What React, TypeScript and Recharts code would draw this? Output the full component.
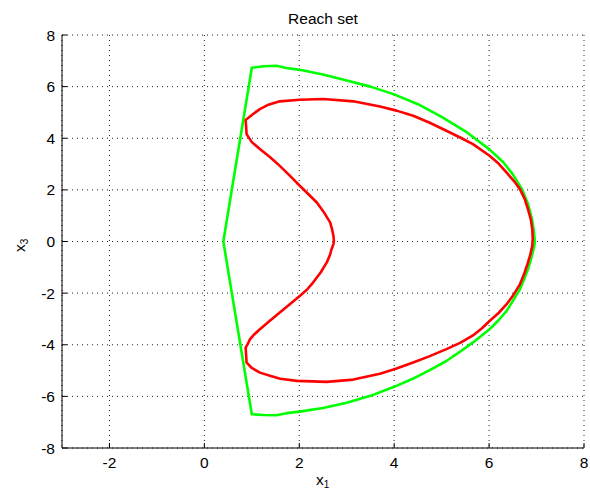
import React from "react";
import { LineChart, Line, XAxis, YAxis, CartesianGrid } from "recharts";

const xTicks = [-2, 0, 2, 4, 6, 8];
const yTicks = [-8, -6, -4, -2, 0, 2, 4, 6, 8];

const greenX = [0.4, 1.0, 1.25, 1.52, 1.73, 2.01, 2.5, 3.0, 3.5, 4.0, 4.5, 5.0, 5.5, 6.0, 6.3, 6.5, 6.7, 6.82, 6.9, 6.94, 6.96, 6.96, 6.93, 6.88, 6.82, 6.74, 6.65, 6.5, 6.37, 6.2, 6.01, 5.66, 5.4, 5.1, 4.75, 4.4, 4.0, 3.5, 3.0, 2.5, 2.01, 1.73, 1.52, 1.25, 1.0, 0.4];
const greenY = [0.0, 6.73, 6.79, 6.81, 6.72, 6.65, 6.47, 6.24, 6.0, 5.7, 5.32, 4.83, 4.27, 3.58, 3.07, 2.6, 2.0, 1.45, 0.9, 0.45, 0.1, -0.1, -0.35, -0.7, -1.07, -1.45, -1.85, -2.3, -2.69, -3.05, -3.4, -3.91, -4.25, -4.63, -4.98, -5.31, -5.63, -5.98, -6.25, -6.45, -6.59, -6.65, -6.73, -6.72, -6.69, 0.0];

const redX = [2.73, 2.72, 2.69, 2.65, 2.53, 2.37, 2.2, 2.01, 1.8, 1.59, 1.38, 1.17, 1.0, 0.89, 0.87, 1.0, 1.17, 1.35, 1.59, 2.01, 2.51, 3.14, 3.7, 4.05, 4.4, 4.75, 5.1, 5.4, 5.66, 6.01, 6.2, 6.37, 6.52, 6.65, 6.75, 6.82, 6.88, 6.91, 6.92, 6.91, 6.87, 6.82, 6.74, 6.65, 6.52, 6.37, 6.2, 6.01, 5.85, 5.66, 5.4, 5.1, 4.75, 4.4, 4.05, 3.7, 3.14, 2.58, 1.95, 1.6, 1.4, 1.17, 1.0, 0.89, 0.87, 0.92, 0.96, 1.05, 1.17, 1.38, 1.59, 1.8, 2.01, 2.16, 2.29, 2.45, 2.58, 2.65, 2.68, 2.72, 2.73];
const redY = [0.0, 0.22, 0.48, 0.74, 1.1, 1.51, 1.82, 2.16, 2.55, 2.93, 3.27, 3.58, 3.85, 4.16, 4.71, 4.9, 5.13, 5.3, 5.43, 5.49, 5.52, 5.43, 5.23, 5.07, 4.87, 4.6, 4.29, 4.02, 3.77, 3.32, 3.02, 2.67, 2.35, 2.03, 1.65, 1.25, 0.85, 0.48, 0.1, -0.17, -0.5, -0.81, -1.25, -1.66, -2.05, -2.43, -2.77, -3.08, -3.36, -3.64, -3.92, -4.17, -4.44, -4.69, -4.92, -5.12, -5.35, -5.44, -5.4, -5.32, -5.21, -5.08, -4.9, -4.69, -4.11, -3.95, -3.79, -3.6, -3.4, -3.07, -2.75, -2.43, -2.11, -1.87, -1.59, -1.2, -0.81, -0.5, -0.3, -0.1, 0.0];

const greenData = greenX.map((x, i) => ({ x, y: greenY[i] }));
const redData = redX.map((x, i) => ({ x, y: redY[i] }));

const FONT = "'Liberation Sans', Arial, Helvetica, sans-serif";
const FS = 15.5;

export default function App() {
  return (
    <div style={{ position: "absolute", left: 0, top: 0, width: 590, height: 492, background: "#fff" }}>
      <LineChart
        width={590}
        height={492}
        margin={{ top: 35, right: 6, bottom: 14, left: 22 }}
      >
        <CartesianGrid stroke="#222" strokeDasharray="1 4" strokeWidth={1} />
        <XAxis
          type="number"
          dataKey="x"
          domain={[-3, 8]}
          ticks={xTicks}
          interval={0}
          height={30}
          tickSize={-5}
          tickMargin={14}
          axisLine={{ stroke: "#000", strokeWidth: 1 }}
          tickLine={{ stroke: "#000" }}
          tick={{ fill: "#000", fontSize: FS, fontFamily: FONT }}
          allowDataOverflow
        />
        <YAxis
          type="number"
          dataKey="y"
          domain={[-8, 8]}
          ticks={yTicks}
          interval={0}
          width={40}
          tickSize={-5}
          tickMargin={12}
          axisLine={{ stroke: "#000", strokeWidth: 1 }}
          tickLine={{ stroke: "#000" }}
          tick={{ fill: "#000", fontSize: FS, fontFamily: FONT }}
          allowDataOverflow
        />
        <Line data={greenData} dataKey="y" stroke="#00ff00" strokeWidth={2.6} strokeLinejoin="round" dot={false} activeDot={false} isAnimationActive={false} type="linear" />
        <Line data={redData} dataKey="y" stroke="#ff0000" strokeWidth={2.6} strokeLinejoin="round" dot={false} activeDot={false} isAnimationActive={false} type="linear" />
      </LineChart>
      <svg
        width={590}
        height={492}
        style={{ position: "absolute", left: 0, top: 0, pointerEvents: "none" }}
        fontFamily={FONT}
      >
        <text x={323} y={24} textAnchor="middle" fontSize={FS} fill="#000">Reach set</text>
        <text x={316} y={485} fontSize={FS} fill="#000">
          x<tspan fontSize={10} dy={3}>1</tspan>
        </text>
        <text transform="translate(24.5,252) rotate(-90)" fontSize={FS} fill="#000">
          x<tspan fontSize={10} dy={3}>3</tspan>
        </text>
      </svg>
    </div>
  );
}
